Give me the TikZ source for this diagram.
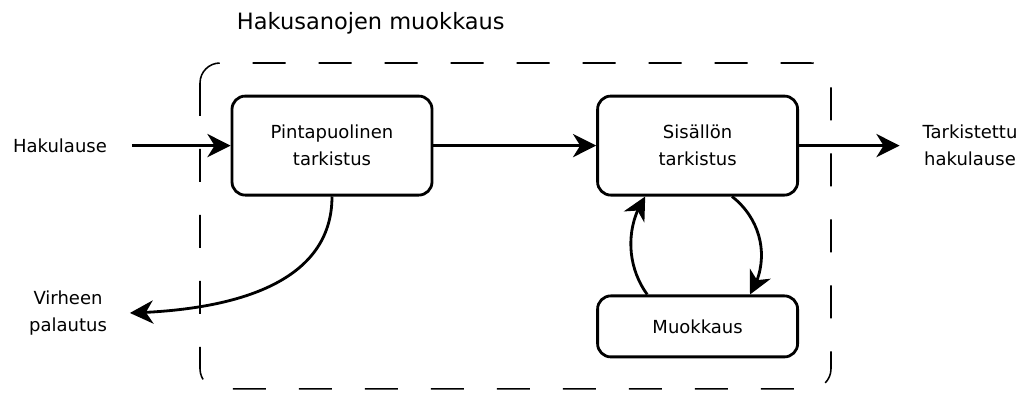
\documentclass[tikz,border=0pt]{standalone}
\usepackage{fontspec}
\setmainfont{DejaVu Sans}
\usetikzlibrary{arrows.meta,bending}

\begin{document}
\begin{tikzpicture}[
  box/.style={draw, line width=2pt, rounded corners=0.33cm, minimum width=5cm, inner sep=0pt,
              align=center, font=\fontsize{12.8}{19}\selectfont},
  lbl/.style={align=center, font=\fontsize{12.8}{19}\selectfont},
  arr/.style={-{Stealth[length=5.8mm, width=5.8mm, inset=1.8mm]}, line width=2pt}]
\useasboundingbox (0,0) rectangle (25.575,-9.85);
\node[anchor=base west, font=\fontsize{16}{19}\selectfont] (title) at (5.8,-0.75) {Hakusanojen muokkaus};
\draw[dash pattern=on 0.825cm off 0.825cm, line width=1.1pt, rounded corners=0.5cm] (5,-1.575) rectangle (20.775,-9.72);

\node[box, minimum height=2.475cm] (pin) at (8.3,-3.64) {Pintapuolinen\\tarkistus};
\node[box, minimum height=2.475cm] (sis) at (17.44,-3.64) {Sisällön\\tarkistus};
\node[box, minimum height=1.525cm] (muok) at (17.44,-8.16) {Muokkaus};

\node[lbl] (haku) at (1.5,-3.64) {Hakulause};
\node[lbl] (tark) at (24.25,-3.64) {Tarkistettu\\hakulause};
\node[lbl] (virhe) at (1.7,-7.83) {Virheen\\palautus};

\draw[arr, shorten <=0.5cm] (haku) -- (pin);
\draw[arr] (pin) -- (sis);
\draw[arr, shorten >=0.45cm] (sis) -- (tark);
\draw[arr, shorten >=0.45cm] (pin.south) to[out=-90, in=0] (virhe);
\draw[arr] ([xshift=-1.26cm]muok.north) to[out=126, in=-124, looseness=0.93] ([xshift=-1.31cm]sis.south);
\draw[arr] ([xshift=0.86cm]sis.south) to[out=-38, in=58] ([xshift=1.31cm]muok.north);
\end{tikzpicture}
\end{document}
